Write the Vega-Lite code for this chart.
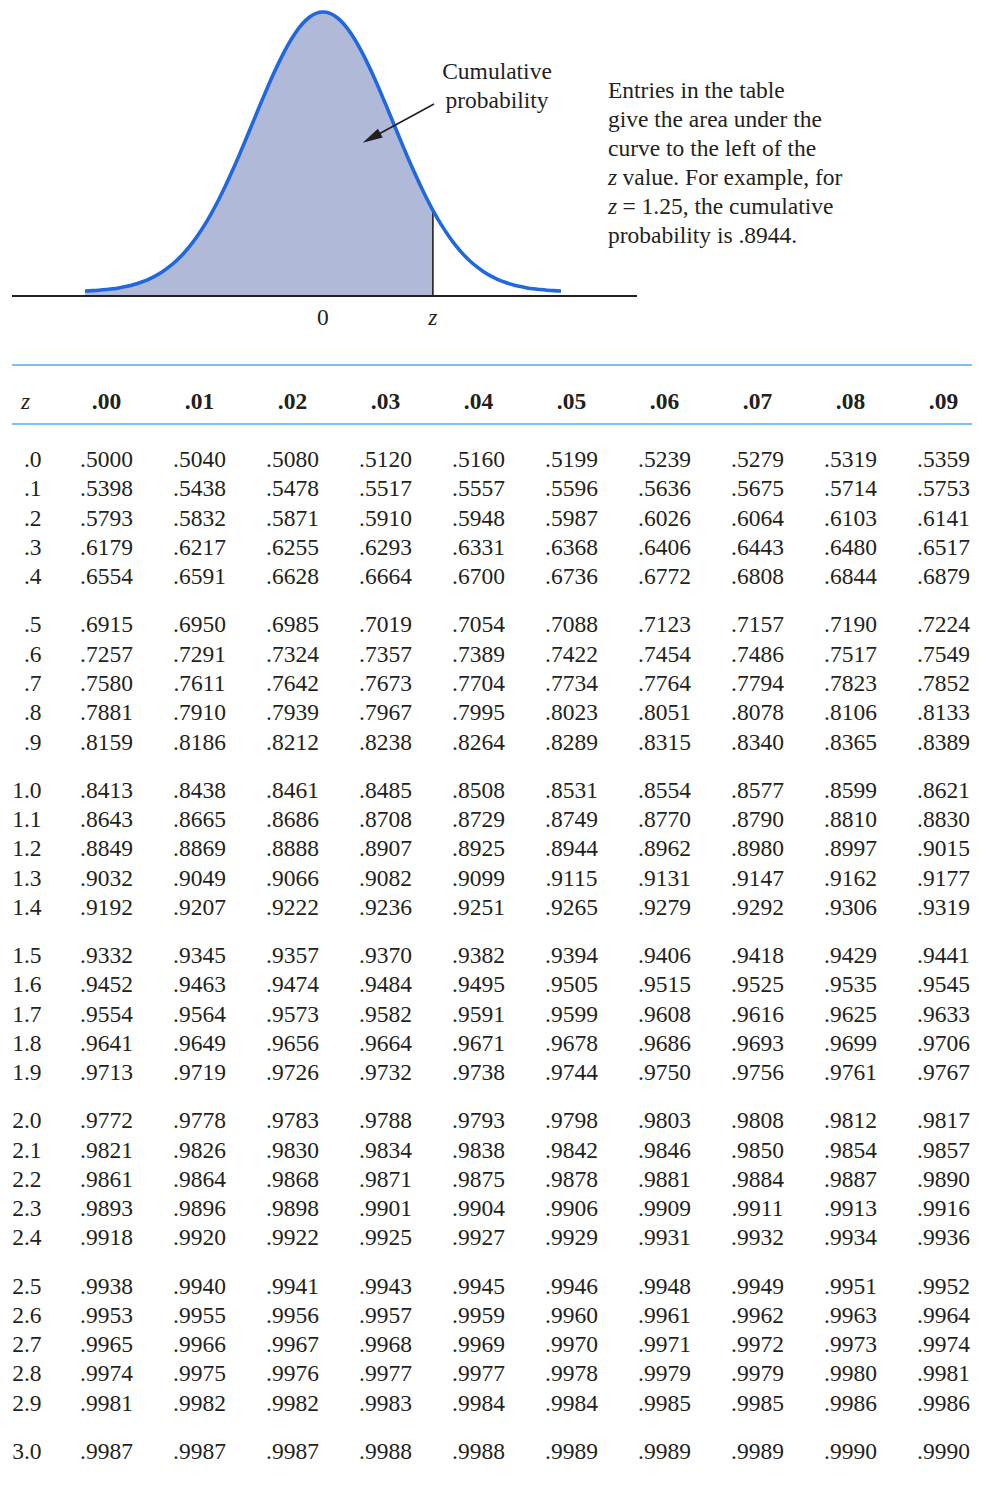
{
  "$schema": "https://vega.github.io/schema/vega-lite/v6.json",
  "autosize": {"type": "none"},
  "width": 960,
  "height": 1485,
  "padding": {"left": 12, "top": 0, "right": 14, "bottom": 0},
  "background": "white",
  "config": {
    "view": {"stroke": null},
    "text": {"font": "Liberation Serif", "fontSize": 23.5, "color": "#231f20"}
  },
  "resolve": {"scale": {"x": "independent", "y": "independent"}},
  "layer": [
    {
      "data": {"values": [
        {"z": -3.4, "d": 0.0012}, {"z": -3.3, "d": 0.0017}, {"z": -3.2, "d": 0.0024}, {"z": -3.1, "d": 0.0033},
        {"z": -3.0, "d": 0.0044}, {"z": -2.9, "d": 0.0060}, {"z": -2.8, "d": 0.0079}, {"z": -2.7, "d": 0.0104},
        {"z": -2.6, "d": 0.0136}, {"z": -2.5, "d": 0.0175}, {"z": -2.4, "d": 0.0224}, {"z": -2.3, "d": 0.0283},
        {"z": -2.2, "d": 0.0355}, {"z": -2.1, "d": 0.0440}, {"z": -2.0, "d": 0.0540}, {"z": -1.9, "d": 0.0656},
        {"z": -1.8, "d": 0.0790}, {"z": -1.7, "d": 0.0940}, {"z": -1.6, "d": 0.1109}, {"z": -1.5, "d": 0.1295},
        {"z": -1.4, "d": 0.1497}, {"z": -1.3, "d": 0.1714}, {"z": -1.2, "d": 0.1942}, {"z": -1.1, "d": 0.2179},
        {"z": -1.0, "d": 0.2420}, {"z": -0.9, "d": 0.2661}, {"z": -0.8, "d": 0.2897}, {"z": -0.7, "d": 0.3123},
        {"z": -0.6, "d": 0.3332}, {"z": -0.5, "d": 0.3521}, {"z": -0.4, "d": 0.3683}, {"z": -0.3, "d": 0.3814},
        {"z": -0.2, "d": 0.3910}, {"z": -0.1, "d": 0.3970}, {"z": 0.0, "d": 0.3989}, {"z": 0.1, "d": 0.3970},
        {"z": 0.2, "d": 0.3910}, {"z": 0.3, "d": 0.3814}, {"z": 0.4, "d": 0.3683}, {"z": 0.5, "d": 0.3521},
        {"z": 0.6, "d": 0.3332}, {"z": 0.7, "d": 0.3123}, {"z": 0.8, "d": 0.2897}, {"z": 0.9, "d": 0.2661},
        {"z": 1.0, "d": 0.2420}, {"z": 1.1, "d": 0.2179}, {"z": 1.2, "d": 0.1942}, {"z": 1.3, "d": 0.1714},
        {"z": 1.4, "d": 0.1497}, {"z": 1.5, "d": 0.1295}, {"z": 1.57, "d": 0.1163}, {"z": 1.6, "d": 0.1109},
        {"z": 1.7, "d": 0.0940}, {"z": 1.8, "d": 0.0790}, {"z": 1.9, "d": 0.0656}, {"z": 2.0, "d": 0.0540},
        {"z": 2.1, "d": 0.0440}, {"z": 2.2, "d": 0.0355}, {"z": 2.3, "d": 0.0283}, {"z": 2.4, "d": 0.0224},
        {"z": 2.5, "d": 0.0175}, {"z": 2.6, "d": 0.0136}, {"z": 2.7, "d": 0.0104}, {"z": 2.8, "d": 0.0079},
        {"z": 2.9, "d": 0.0060}, {"z": 3.0, "d": 0.0044}, {"z": 3.1, "d": 0.0033}, {"z": 3.2, "d": 0.0024},
        {"z": 3.3, "d": 0.0017}, {"z": 3.4, "d": 0.0012}
      ]},
      "layer": [
        {
          "transform": [{"filter": "datum.z <= 1.57"}],
          "mark": {"type": "area", "color": "#b0bad8", "interpolate": "monotone"},
          "encoding": {
            "x": {"field": "z", "type": "quantitative",
                  "scale": {"domain": [-4.443, 4.486], "range": [0, 625], "nice": false, "zero": false}, "axis": null},
            "y": {"field": "d", "type": "quantitative",
                  "scale": {"domain": [-0.0059, 0.416], "range": [296, 0], "nice": false, "zero": false}, "axis": null},
            "y2": {"datum": -0.0059}
          }
        },
        {
          "data": {"values": [{}]},
          "mark": {"type": "rule", "color": "#231f20", "strokeWidth": 2},
          "encoding": {
            "x": {"datum": -4.443}, "x2": {"datum": 4.486},
            "y": {"datum": -0.0059}
          }
        },
        {
          "transform": [{"filter": "datum.z == 1.57"}],
          "mark": {"type": "rule", "color": "#231f20", "strokeWidth": 1.6},
          "encoding": {
            "x": {"field": "z", "type": "quantitative"},
            "y": {"field": "d", "type": "quantitative"},
            "y2": {"datum": -0.0059}
          }
        },
        {
          "mark": {"type": "line", "color": "#2167de", "strokeWidth": 3.6, "interpolate": "monotone"},
          "encoding": {
            "x": {"field": "z", "type": "quantitative"},
            "y": {"field": "d", "type": "quantitative"}
          }
        },
        {
          "data": {"values": [{}]},
          "mark": {"type": "rule", "color": "#231f20", "strokeWidth": 1.6},
          "encoding": {
            "x": {"datum": 1.586}, "y": {"datum": 0.2678},
            "x2": {"datum": 0.693}, "y2": {"datum": 0.2194}
          }
        },
        {
          "data": {"values": [{}]},
          "mark": {"type": "point", "shape": "M0,-1L0.5,1L-0.5,1Z", "filled": true, "color": "#231f20",
                   "size": 400, "angle": 241.5, "opacity": 1, "strokeWidth": 0},
          "encoding": {"x": {"datum": 0.693}, "y": {"datum": 0.2194}}
        },
        {
          "data": {"values": [{}]},
          "mark": {"type": "text", "align": "center", "baseline": "alphabetic", "dy": 29, "text": "0"},
          "encoding": {"x": {"datum": 0}, "y": {"datum": -0.0059}}
        },
        {
          "data": {"values": [{}]},
          "mark": {"type": "text", "align": "center", "baseline": "alphabetic", "dy": 29, "fontStyle": "italic", "text": "z"},
          "encoding": {"x": {"datum": 1.57}, "y": {"datum": -0.0059}}
        },
        {
          "data": {"values": [{}]},
          "mark": {"type": "text", "align": "center", "baseline": "alphabetic", "lineHeight": 29,
                   "text": ["Cumulative", "probability"]},
          "encoding": {"x": {"datum": 2.486}, "y": {"datum": 0.3034}}
        },
        {
          "data": {"values": [{}]},
          "mark": {"type": "text", "align": "left", "baseline": "alphabetic", "lineHeight": 29,
                   "text": ["Entries in the table", "give the area under the", "curve to the left of the"]},
          "encoding": {"x": {"datum": 4.071}, "y": {"datum": 0.2763}}
        },
        {
          "data": {"values": [{}]},
          "mark": {"type": "text", "align": "left", "baseline": "alphabetic", "lineHeight": 29,
                   "fontStyle": "italic", "text": ["z", "z"]},
          "encoding": {"x": {"datum": 4.071}, "y": {"datum": 0.1523}}
        },
        {
          "data": {"values": [{}]},
          "mark": {"type": "text", "align": "left", "baseline": "alphabetic", "lineHeight": 29, "dx": 14.5,
                   "text": ["value. For example, for", "= 1.25, the cumulative"]},
          "encoding": {"x": {"datum": 4.071}, "y": {"datum": 0.1523}}
        },
        {
          "data": {"values": [{}]},
          "mark": {"type": "text", "align": "left", "baseline": "alphabetic", "text": "probability is .8944."},
          "encoding": {"x": {"datum": 4.071}, "y": {"datum": 0.0696}}
        }
      ]
    },
    {
      "data": {"values": [
        {"col": "z", "h": "z"}, {"col": "c0", "h": ".00"}, {"col": "c1", "h": ".01"}, {"col": "c2", "h": ".02"},
        {"col": "c3", "h": ".03"}, {"col": "c4", "h": ".04"}, {"col": "c5", "h": ".05"}, {"col": "c6", "h": ".06"},
        {"col": "c7", "h": ".07"}, {"col": "c8", "h": ".08"}, {"col": "c9", "h": ".09"}
      ]},
      "layer": [
        {
          "transform": [{"filter": "datum.col != 'z'"}],
          "mark": {"type": "text", "fontWeight": "bold", "baseline": "middle"},
          "encoding": {
            "x": {"field": "col", "type": "nominal",
                  "scale": {"type": "point", "domain": ["z", "c0", "c1", "c2", "c3", "c4", "c5", "c6", "c7", "c8", "c9"],
                            "padding": 0.1613, "align": 0.05}, "axis": null},
            "y": {"datum": 0.63, "type": "quantitative",
                  "scale": {"domain": [0, 1], "range": [365, 424], "nice": false, "zero": false}, "axis": null},
            "text": {"field": "h"}
          }
        },
        {
          "transform": [{"filter": "datum.col == 'z'"}],
          "mark": {"type": "text", "fontStyle": "italic", "baseline": "middle", "dx": 12},
          "encoding": {
            "x": {"field": "col", "type": "nominal"},
            "y": {"datum": 0.63, "type": "quantitative"},
            "text": {"field": "h"}
          }
        },
        {
          "data": {"values": [{"edge": 0}, {"edge": 1}]},
          "mark": {"type": "rule", "color": "#56a8e8", "strokeWidth": 1.5},
          "encoding": {
            "y": {"field": "edge", "type": "quantitative"}
          }
        }
      ]
    },
    {
      "data": {"values": [
        {"z": 0.0, "lab": ".0", "c0": ".5000", "c1": ".5040", "c2": ".5080", "c3": ".5120", "c4": ".5160", "c5": ".5199", "c6": ".5239", "c7": ".5279", "c8": ".5319", "c9": ".5359"},
        {"z": 0.1, "lab": ".1", "c0": ".5398", "c1": ".5438", "c2": ".5478", "c3": ".5517", "c4": ".5557", "c5": ".5596", "c6": ".5636", "c7": ".5675", "c8": ".5714", "c9": ".5753"},
        {"z": 0.2, "lab": ".2", "c0": ".5793", "c1": ".5832", "c2": ".5871", "c3": ".5910", "c4": ".5948", "c5": ".5987", "c6": ".6026", "c7": ".6064", "c8": ".6103", "c9": ".6141"},
        {"z": 0.3, "lab": ".3", "c0": ".6179", "c1": ".6217", "c2": ".6255", "c3": ".6293", "c4": ".6331", "c5": ".6368", "c6": ".6406", "c7": ".6443", "c8": ".6480", "c9": ".6517"},
        {"z": 0.4, "lab": ".4", "c0": ".6554", "c1": ".6591", "c2": ".6628", "c3": ".6664", "c4": ".6700", "c5": ".6736", "c6": ".6772", "c7": ".6808", "c8": ".6844", "c9": ".6879"},
        {"z": 0.5, "lab": ".5", "c0": ".6915", "c1": ".6950", "c2": ".6985", "c3": ".7019", "c4": ".7054", "c5": ".7088", "c6": ".7123", "c7": ".7157", "c8": ".7190", "c9": ".7224"},
        {"z": 0.6, "lab": ".6", "c0": ".7257", "c1": ".7291", "c2": ".7324", "c3": ".7357", "c4": ".7389", "c5": ".7422", "c6": ".7454", "c7": ".7486", "c8": ".7517", "c9": ".7549"},
        {"z": 0.7, "lab": ".7", "c0": ".7580", "c1": ".7611", "c2": ".7642", "c3": ".7673", "c4": ".7704", "c5": ".7734", "c6": ".7764", "c7": ".7794", "c8": ".7823", "c9": ".7852"},
        {"z": 0.8, "lab": ".8", "c0": ".7881", "c1": ".7910", "c2": ".7939", "c3": ".7967", "c4": ".7995", "c5": ".8023", "c6": ".8051", "c7": ".8078", "c8": ".8106", "c9": ".8133"},
        {"z": 0.9, "lab": ".9", "c0": ".8159", "c1": ".8186", "c2": ".8212", "c3": ".8238", "c4": ".8264", "c5": ".8289", "c6": ".8315", "c7": ".8340", "c8": ".8365", "c9": ".8389"},
        {"z": 1.0, "lab": "1.0", "c0": ".8413", "c1": ".8438", "c2": ".8461", "c3": ".8485", "c4": ".8508", "c5": ".8531", "c6": ".8554", "c7": ".8577", "c8": ".8599", "c9": ".8621"},
        {"z": 1.1, "lab": "1.1", "c0": ".8643", "c1": ".8665", "c2": ".8686", "c3": ".8708", "c4": ".8729", "c5": ".8749", "c6": ".8770", "c7": ".8790", "c8": ".8810", "c9": ".8830"},
        {"z": 1.2, "lab": "1.2", "c0": ".8849", "c1": ".8869", "c2": ".8888", "c3": ".8907", "c4": ".8925", "c5": ".8944", "c6": ".8962", "c7": ".8980", "c8": ".8997", "c9": ".9015"},
        {"z": 1.3, "lab": "1.3", "c0": ".9032", "c1": ".9049", "c2": ".9066", "c3": ".9082", "c4": ".9099", "c5": ".9115", "c6": ".9131", "c7": ".9147", "c8": ".9162", "c9": ".9177"},
        {"z": 1.4, "lab": "1.4", "c0": ".9192", "c1": ".9207", "c2": ".9222", "c3": ".9236", "c4": ".9251", "c5": ".9265", "c6": ".9279", "c7": ".9292", "c8": ".9306", "c9": ".9319"},
        {"z": 1.5, "lab": "1.5", "c0": ".9332", "c1": ".9345", "c2": ".9357", "c3": ".9370", "c4": ".9382", "c5": ".9394", "c6": ".9406", "c7": ".9418", "c8": ".9429", "c9": ".9441"},
        {"z": 1.6, "lab": "1.6", "c0": ".9452", "c1": ".9463", "c2": ".9474", "c3": ".9484", "c4": ".9495", "c5": ".9505", "c6": ".9515", "c7": ".9525", "c8": ".9535", "c9": ".9545"},
        {"z": 1.7, "lab": "1.7", "c0": ".9554", "c1": ".9564", "c2": ".9573", "c3": ".9582", "c4": ".9591", "c5": ".9599", "c6": ".9608", "c7": ".9616", "c8": ".9625", "c9": ".9633"},
        {"z": 1.8, "lab": "1.8", "c0": ".9641", "c1": ".9649", "c2": ".9656", "c3": ".9664", "c4": ".9671", "c5": ".9678", "c6": ".9686", "c7": ".9693", "c8": ".9699", "c9": ".9706"},
        {"z": 1.9, "lab": "1.9", "c0": ".9713", "c1": ".9719", "c2": ".9726", "c3": ".9732", "c4": ".9738", "c5": ".9744", "c6": ".9750", "c7": ".9756", "c8": ".9761", "c9": ".9767"},
        {"z": 2.0, "lab": "2.0", "c0": ".9772", "c1": ".9778", "c2": ".9783", "c3": ".9788", "c4": ".9793", "c5": ".9798", "c6": ".9803", "c7": ".9808", "c8": ".9812", "c9": ".9817"},
        {"z": 2.1, "lab": "2.1", "c0": ".9821", "c1": ".9826", "c2": ".9830", "c3": ".9834", "c4": ".9838", "c5": ".9842", "c6": ".9846", "c7": ".9850", "c8": ".9854", "c9": ".9857"},
        {"z": 2.2, "lab": "2.2", "c0": ".9861", "c1": ".9864", "c2": ".9868", "c3": ".9871", "c4": ".9875", "c5": ".9878", "c6": ".9881", "c7": ".9884", "c8": ".9887", "c9": ".9890"},
        {"z": 2.3, "lab": "2.3", "c0": ".9893", "c1": ".9896", "c2": ".9898", "c3": ".9901", "c4": ".9904", "c5": ".9906", "c6": ".9909", "c7": ".9911", "c8": ".9913", "c9": ".9916"},
        {"z": 2.4, "lab": "2.4", "c0": ".9918", "c1": ".9920", "c2": ".9922", "c3": ".9925", "c4": ".9927", "c5": ".9929", "c6": ".9931", "c7": ".9932", "c8": ".9934", "c9": ".9936"},
        {"z": 2.5, "lab": "2.5", "c0": ".9938", "c1": ".9940", "c2": ".9941", "c3": ".9943", "c4": ".9945", "c5": ".9946", "c6": ".9948", "c7": ".9949", "c8": ".9951", "c9": ".9952"},
        {"z": 2.6, "lab": "2.6", "c0": ".9953", "c1": ".9955", "c2": ".9956", "c3": ".9957", "c4": ".9959", "c5": ".9960", "c6": ".9961", "c7": ".9962", "c8": ".9963", "c9": ".9964"},
        {"z": 2.7, "lab": "2.7", "c0": ".9965", "c1": ".9966", "c2": ".9967", "c3": ".9968", "c4": ".9969", "c5": ".9970", "c6": ".9971", "c7": ".9972", "c8": ".9973", "c9": ".9974"},
        {"z": 2.8, "lab": "2.8", "c0": ".9974", "c1": ".9975", "c2": ".9976", "c3": ".9977", "c4": ".9977", "c5": ".9978", "c6": ".9979", "c7": ".9979", "c8": ".9980", "c9": ".9981"},
        {"z": 2.9, "lab": "2.9", "c0": ".9981", "c1": ".9982", "c2": ".9982", "c3": ".9983", "c4": ".9984", "c5": ".9984", "c6": ".9985", "c7": ".9985", "c8": ".9986", "c9": ".9986"},
        {"z": 3.0, "lab": "3.0", "c0": ".9987", "c1": ".9987", "c2": ".9987", "c3": ".9988", "c4": ".9988", "c5": ".9989", "c6": ".9989", "c7": ".9989", "c8": ".9990", "c9": ".9990"}
      ]},
      "layer": [
        {
          "transform": [{"fold": ["c0", "c1", "c2", "c3", "c4", "c5", "c6", "c7", "c8", "c9"], "as": ["col", "p"]}],
          "mark": {"type": "text", "baseline": "middle"},
          "encoding": {
            "x": {"field": "col", "type": "nominal",
                  "scale": {"type": "point", "domain": ["z", "c0", "c1", "c2", "c3", "c4", "c5", "c6", "c7", "c8", "c9"],
                            "padding": 0.1613, "align": 0.05},
                  "axis": null},
            "y": {"field": "z", "type": "quantitative",
                  "scale": {"domain": [0, 0.4, 0.5, 0.9, 1.0, 1.4, 1.5, 1.9, 2.0, 2.4, 2.5, 2.9, 3.0],
                            "range": [460, 577.2, 625.3, 742.5, 790.6, 907.8, 955.9, 1073.1, 1121.2, 1238.4, 1286.5, 1403.7, 1451.8],
                            "nice": false, "zero": false},
                  "axis": null},
            "text": {"field": "p"}
          }
        },
        {
          "mark": {"type": "text", "baseline": "middle", "align": "right", "dx": 28},
          "encoding": {
            "x": {"datum": "z", "type": "nominal"},
            "y": {"field": "z", "type": "quantitative"},
            "text": {"field": "lab"}
          }
        }
      ]
    }
  ]
}
